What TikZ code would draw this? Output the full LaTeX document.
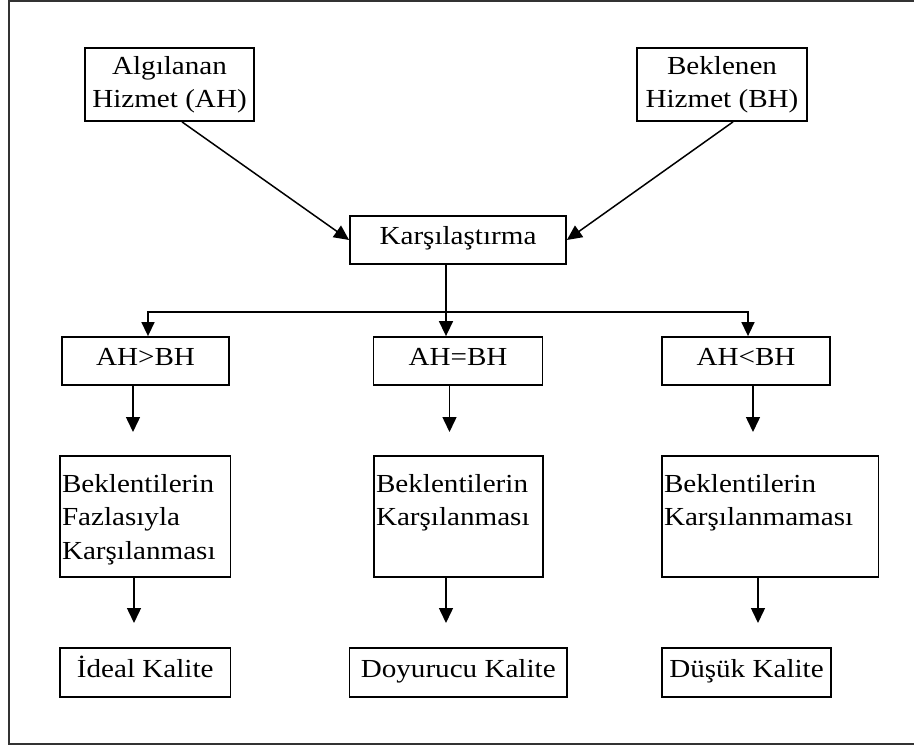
\documentclass[tikz,border=0pt]{standalone}
\usepackage{fontspec}
\setmainfont{Liberation Serif}[FakeStretch=1.12]
\usetikzlibrary{arrows.meta}
\newcommand{\tallbox}[2]{\parbox[c][121pt][t]{#1}{\raggedright\leftskip=2pt\relax\rule{0pt}{36pt}#2}}
\begin{document}
\begin{tikzpicture}[x=1pt,y=-1pt,
  box/.style={draw, line width=1.8pt, inner sep=0pt, font=\fontsize{26}{33.5}\selectfont},
  twoline/.style={box, align=center, font=\fontsize{26}{32.5}\selectfont},
  oneline/.style={box, text height=18pt, text depth=8pt},
  arr/.style={line width=1.5pt, -{Triangle[length=15pt,width=14pt]}}]
\useasboundingbox (0,0) rectangle (914,746);
% frame
\draw[line width=1.2pt, black!80] (914,1) -- (9,1) -- (9,744) -- (914,744);

% inputs and comparison
\node[twoline, minimum width=169pt, minimum height=73pt] (ah) at (169.5,84.5) {Algılanan\\Hizmet (AH)};
\node[twoline, minimum width=170pt, minimum height=73pt] (bh) at (722,84.5) {Beklenen\\Hizmet (BH)};
\node[oneline, minimum width=216pt, minimum height=48pt] (cmp) at (458,240) {Karşılaştırma};

% three cases
\node[oneline, minimum width=167pt, minimum height=48pt] (gt) at (145.5,361) {AH>BH};
\node[oneline, minimum width=169pt, minimum height=48pt] (eq) at (458,361) {AH=BH};
\node[oneline, minimum width=168pt, minimum height=48pt] (lt) at (746,361) {AH<BH};

% outcomes
\node[box] (r1) at (145.25,516.5) {\tallbox{170.5pt}{Beklentilerin\\Fazlasıyla\\Karşılanması}};
\node[box] (r2) at (458.5,516.5) {\tallbox{169pt}{Beklentilerin\\Karşılanması}};
\node[box] (r3) at (770.25,516.5) {\tallbox{216.5pt}{Beklentilerin\\Karşılanmaması}};

% quality levels
\node[oneline, minimum width=170.5pt, minimum height=49pt] (q1) at (145.25,672.5) {İdeal Kalite};
\node[oneline, minimum width=217.5pt, minimum height=49pt] (q2) at (458.25,672.5) {Doyurucu Kalite};
\node[oneline, minimum width=169pt, minimum height=49pt] (q3) at (746.5,672.5) {Düşük Kalite};

% connectors
\draw[arr] ([xshift=12.5pt]ah.south) -- (cmp.west);
\draw[arr] ([xshift=11pt]bh.south) -- (cmp.east);
\draw[arr] ([xshift=-12pt]cmp.south) -- ([xshift=-12pt]eq.north);

\coordinate (sl) at (148,312);
\coordinate (sr) at (748,312);
\draw[line width=1.5pt, {Triangle[length=14pt,width=13pt]}-{Triangle[length=14pt,width=13pt]}]
  ([xshift=2.5pt]gt.north) -- (sl) -- (sr) -- ([xshift=2pt]lt.north);

\coordinate (d1) at (133,432);
\coordinate (d2) at (449.5,432);
\coordinate (d3) at (753,432);
\draw[arr] (gt.south -| d1) -- (d1);
\draw[arr] (eq.south -| d2) -- (d2);
\draw[arr] (lt.south -| d3) -- (d3);

\coordinate (e1) at (134,623);
\coordinate (e2) at (446,623);
\coordinate (e3) at (758,623);
\draw[arr] (r1.south -| e1) -- (e1);
\draw[arr] (r2.south -| e2) -- (e2);
\draw[arr] (r3.south -| e3) -- (e3);
\end{tikzpicture}
\end{document}
